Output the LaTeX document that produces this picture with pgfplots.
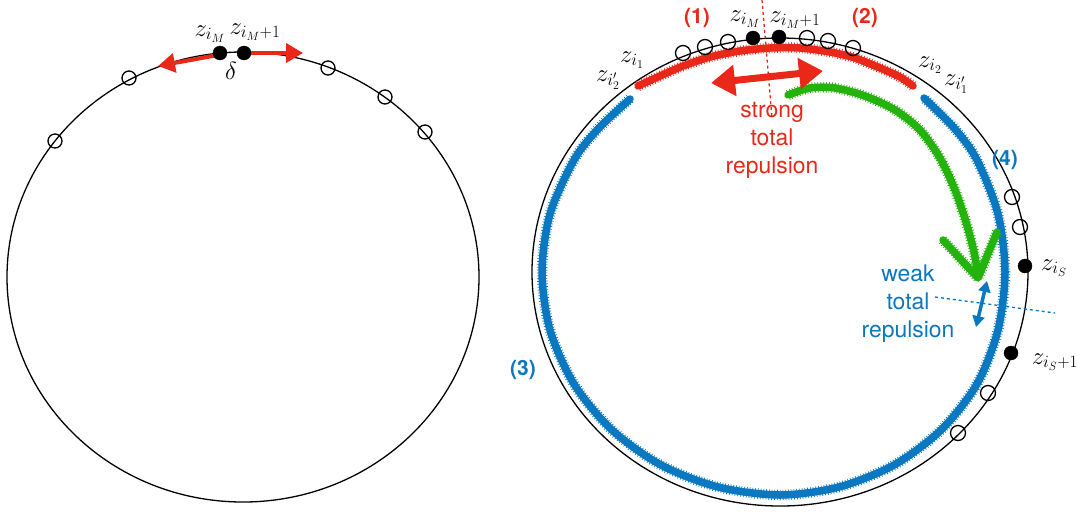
\documentclass[border=0pt]{standalone}
\usepackage{pgfplots}
\pgfplotsset{compat=1.18}
\usepackage{fontspec}
\setsansfont{TeX Gyre Heros}
\usetikzlibrary{arrows.meta}
\definecolor{rd}{RGB}{234,40,26}
\definecolor{bl}{RGB}{10,120,192}
\definecolor{gr}{RGB}{36,178,12}
\tikzset{
  scrib/.style={line width=7.5bp, line cap=round, line join=round},
  fringe/.style={line width=10.5bp, dash pattern=on 0.7bp off 2.1bp, line join=round},
  mlab/.style={font=\fontsize{23}{26}\selectfont, inner sep=0pt},
  blab/.style={font=\sffamily\bfseries\fontsize{21}{24}\selectfont, inner sep=0pt},
  tlab/.style={font=\sffamily\fontsize{23}{28}\selectfont, align=center, inner sep=0pt}
}
\pgfplotstableread{
x y
630 99
598 129
574 160
550 214
542 272
550 330
574 384
612 430
661 465
718 487
780 495
839 487
894 465
941 430
977 384
998 330
1005 272
998 214
977 160
955 129
924 98
}\bluearc
\pgfplotstableread{
x y
638 86
660 76
683 66
710 57
740 51
770 48
800 48
830 52
855 58
880 68
900 77
913 86
}\redarc
\pgfplotstableread{
x y
788 95
810 88
835 88
865 96
895 110
920 130
940 158
955 190
966 222
974 252
978 276
}\greenarc
\begin{document}
\begin{tikzpicture}
\begin{axis}[scale only axis, width=1077bp, height=512bp,
  xmin=0, xmax=1077, ymin=0, ymax=512, y dir=reverse,
  hide axis, clip=false]

% ---- left picture
\draw[line width=1.3bp] (axis cs:243,277) ellipse [x radius=236, y radius=225];
\addplot[rd, line width=4bp, -{Triangle[width=19bp,length=17bp]}] coordinates {(218,55) (158,66)};
\addplot[rd, line width=4bp, -{Triangle[width=19bp,length=17bp]}] coordinates {(245,53) (303,53)};
\addplot[only marks, mark=o, mark size=7bp, mark options={line width=1.3bp}] coordinates {
(55,141) (129,78) (328,68) (385,97) (425,132)};
\addplot[only marks, mark=*, mark size=7bp] coordinates {(220,53) (244,53)};
\node[mlab] at (axis cs:210,34) {$z_{i_M}$};
\node[mlab] at (axis cs:255,32) {$z_{i_M+1}$};
\node[mlab] at (axis cs:231,71) {$\delta$};

% ---- right picture
\draw[line width=1.3bp] (axis cs:780,272) ellipse [x radius=248, y radius=234];

% blue (3)+(4), red (1)+(2), green arrow
\addplot[bl, scrib, smooth] table {\bluearc};
\addplot[bl, fringe, smooth] table {\bluearc};
\addplot[rd, scrib, smooth] table {\redarc};
\addplot[rd, fringe, smooth] table {\redarc};
\addplot[gr, scrib, smooth] table {\greenarc};
\addplot[gr, fringe, smooth] table {\greenarc};
\addplot[gr, scrib] coordinates {(943,240) (978,278) (997,232)};
\addplot[gr, fringe] coordinates {(943,240) (978,278) (997,232)};

% dashed separators
\addplot[rd, line width=1.3bp, dashed] coordinates {(762,0) (772,118)};
\addplot[bl, line width=1.3bp, dashed] coordinates {(935,297) (1055,313)};

% repulsion arrows
\addplot[rd, line width=7bp, {Triangle[width=30bp,length=24bp]}-{Triangle[width=30bp,length=24bp]}]
  coordinates {(711,83) (823,71)};
\addplot[bl, line width=3.5bp, {Triangle[width=12bp,length=11bp]}-{Triangle[width=12bp,length=11bp]}]
  coordinates {(987,281) (976,327)};

% points on circle
\addplot[only marks, mark=o, mark size=7.5bp, mark options={line width=1.3bp}] coordinates {
(683,53) (705,47) (728,42) (807,38) (828,41) (853,48)
(1012,197) (1020,227) (988,393) (958,433)};
\addplot[only marks, mark=*, mark size=7bp] coordinates {
(753,38) (779,37) (1025,266) (1011,353)};

% labels
\node[mlab] at (axis cs:745,19) {$z_{i_M}$};
\node[mlab] at (axis cs:795,20) {$z_{i_M+1}$};
\node[mlab] at (axis cs:632,60) {$z_{i_1}$};
\node[mlab] at (axis cs:608,80) {$z_{i'_2}$};
\node[mlab] at (axis cs:930,65) {$z_{i_2}$};
\node[mlab] at (axis cs:956,84) {$z_{i'_1}$};
\node[mlab] at (axis cs:1054,268) {$z_{i_S}$};
\node[mlab] at (axis cs:1055,362) {$z_{i_S+1}$};

\node[blab, text=rd] at (axis cs:697,18) {(1)};
\node[blab, text=rd] at (axis cs:865,18) {(2)};
\node[blab, text=bl] at (axis cs:523,370) {(3)};
\node[blab, text=bl] at (axis cs:1005,160) {(4)};

\node[tlab, text=rd] at (axis cs:772,140) {strong\\total\\repulsion};
\node[tlab, text=bl] at (axis cs:908,304) {weak\\total\\repulsion};
\end{axis}
\pgfresetboundingbox
\path (current axis.south west) rectangle (current axis.north east);
\end{tikzpicture}
\end{document}
